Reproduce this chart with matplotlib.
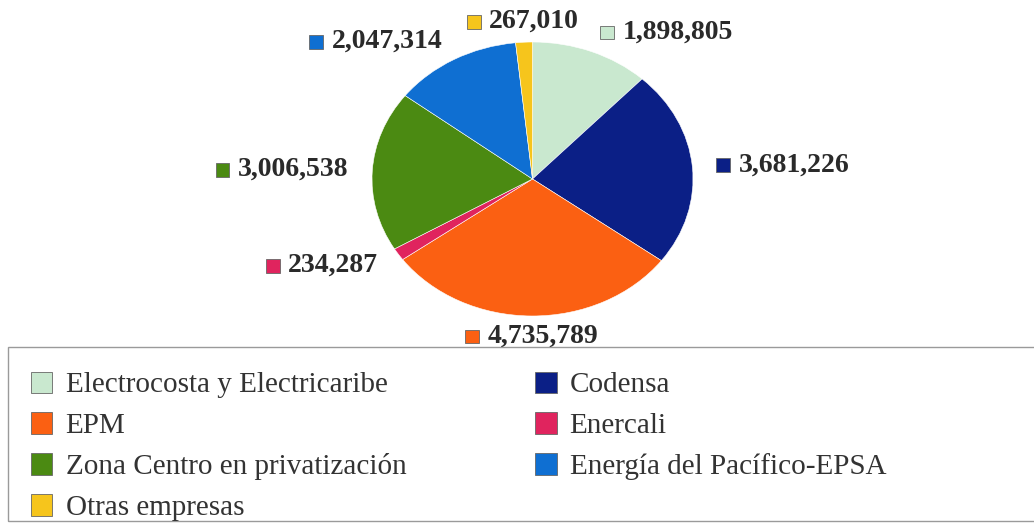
import numpy as np
import matplotlib
matplotlib.use('Agg')
import matplotlib.pyplot as plt
from matplotlib.patches import Rectangle
from matplotlib.offsetbox import AnnotationBbox, HPacker, TextArea, DrawingArea

companies = ['Electrocosta y Electricaribe', 'Codensa', 'EPM', 'Enercali',
             'Zona Centro en privatización', 'Energía del Pacífico-EPSA', 'Otras empresas']
users = [1898805, 3681226, 4735789, 234287, 3006538, 2047314, 267010]
colors = ['#c9e8cf', '#0b1f86', '#fb6012', '#e0245e', '#4b8a12', '#0f6fd2', '#f6c51c']

plt.rcParams['font.family'] = ['Liberation Serif', 'DejaVu Serif']

fig = plt.figure(figsize=(10.34, 5.24), dpi=100)

# pie is drawn stretched (a bit wider than tall), like the original
ax = fig.add_axes([372 / 1034, 1 - 316 / 524, 321 / 1034, 274 / 524])
wedges, _ = ax.pie(users, colors=colors, startangle=90, counterclock=False,
                   wedgeprops=dict(linewidth=0.4, edgecolor='white'))
ax.set_aspect('auto')
ax.set_xlim(-1, 1)
ax.set_ylim(-1, 1)

dist = 1.15
for w, val, col in zip(wedges, users, colors):
    ang = np.deg2rad((w.theta1 + w.theta2) / 2)
    x, y = dist * np.cos(ang), dist * np.sin(ang)
    if abs(np.cos(ang)) < 0.2:
        align = (0.5, 0.5)
    elif x > 0:
        align = (0.0, 0.5)
    else:
        align = (1.0, 0.5)
    sq = DrawingArea(10, 10)
    sq.add_artist(Rectangle((0, 0), 10, 10, facecolor=col, edgecolor='#666666', linewidth=0.6))
    txt = TextArea(f'{val:,}', textprops=dict(fontsize=20, fontweight='bold', color='#2a2a2a'))
    box = HPacker(children=[sq, txt], pad=0, sep=6, align='center')
    ab = AnnotationBbox(box, (x, y), xycoords='data', box_alignment=align,
                        frameon=False, pad=0, annotation_clip=False)
    ax.add_artist(ab)

# legend, filled row by row like the original
order = [0, 2, 4, 6, 1, 3, 5]
handles = [Rectangle((0, 0), 1, 1, facecolor=colors[i], edgecolor='#666666', linewidth=0.6) for i in order]
labels = [companies[i] for i in order]
fig.legend(handles, labels, ncol=2, loc='upper left', bbox_to_anchor=(16 / 1034, 1 - 357 / 524),
           frameon=False, fontsize=21, labelcolor='#333333', handlelength=0.75, handleheight=0.75,
           handletextpad=0.45, labelspacing=0.48, columnspacing=4.4, borderpad=0)
fig.patches.append(Rectangle((8 / 1034, 3 / 524), 1.1, (521 - 347) / 524,
                             transform=fig.transFigure, fill=False, edgecolor='#9a9a9a', linewidth=1))

fig.savefig('out.png', dpi=100)
